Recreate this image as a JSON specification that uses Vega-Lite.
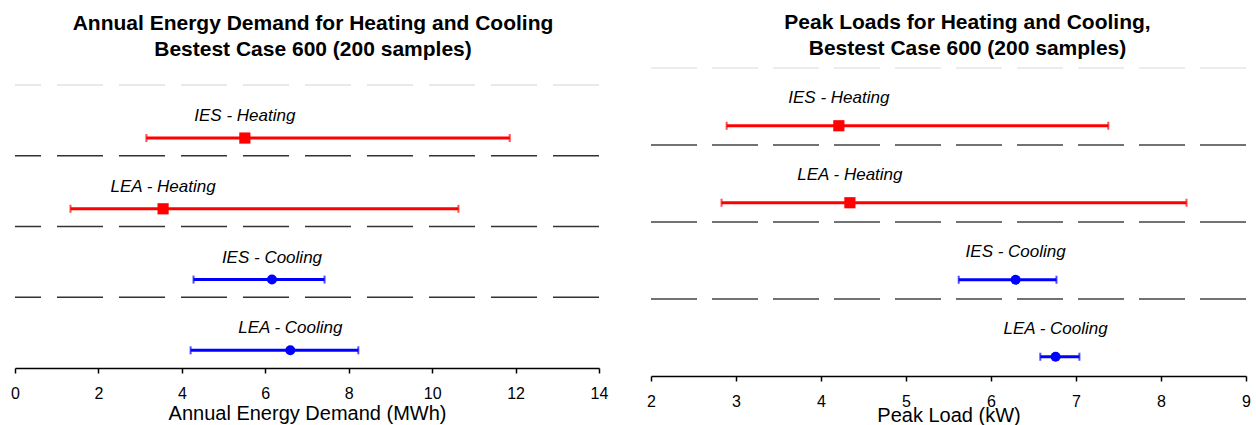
{
  "$schema": "https://vega.github.io/schema/vega-lite/v6.json",
  "padding": {"left": 10, "top": 12, "right": 4, "bottom": 0},
  "spacing": 38,
  "background": "white",
  "config": {
    "view": {"stroke": null},
    "font": "Liberation Sans",
    "title": {"font": "Liberation Sans", "fontSize": 21, "fontWeight": "bold", "color": "#000000", "lineHeight": 26, "anchor": "middle", "offset": 8},
    "axis": {"domainColor": "#000000", "domainWidth": 1.5, "tickColor": "#000000", "tickWidth": 1.5, "tickSize": 5, "labelFont": "Liberation Sans", "labelFontSize": 16, "labelColor": "#000000", "labelPadding": 12, "labelFlush": false, "titleFont": "Liberation Sans", "titleFontSize": 20, "titleFontWeight": "normal", "titleColor": "#000000", "grid": false, "format": "d"}
  },
  "datasets": {
    "sep": [{"y": 1}, {"y": 2}, {"y": 3}],
    "top": [{"y": 4}],
    "left": [
      {"label": "IES - Heating", "type": "Heating", "lo": 3.15, "mean": 5.51, "hi": 11.86, "pos": 3.25},
      {"label": "LEA - Heating", "type": "Heating", "lo": 1.33, "mean": 3.55, "hi": 10.63, "pos": 2.25},
      {"label": "IES - Cooling", "type": "Cooling", "lo": 4.28, "mean": 6.16, "hi": 7.42, "pos": 1.25},
      {"label": "LEA - Cooling", "type": "Cooling", "lo": 4.21, "mean": 6.60, "hi": 8.23, "pos": 0.25}
    ],
    "right": [
      {"label": "IES - Heating", "type": "Heating", "lo": 2.89, "mean": 4.21, "hi": 7.38, "pos": 3.25},
      {"label": "LEA -  Heating", "type": "Heating", "lo": 2.83, "mean": 4.34, "hi": 8.30, "pos": 2.25},
      {"label": "IES - Cooling", "type": "Cooling", "lo": 5.62, "mean": 6.29, "hi": 6.77, "pos": 1.25},
      {"label": "LEA - Cooling", "type": "Cooling", "lo": 6.58, "mean": 6.76, "hi": 7.04, "pos": 0.25}
    ]
  },
  "hconcat": [
    {
      "width": 584,
      "height": 300,
      "title": {"text": ["Annual Energy Demand for Heating and Cooling", "Bestest Case 600 (200 samples)"], "dx": 6},
      "layer": [
        {
          "data": {"name": "top"},
          "mark": {"type": "rule", "strokeDash": [46, 16], "strokeWidth": 1.3, "color": "#e2e2e2"},
          "encoding": {
            "y": {"field": "y", "type": "quantitative", "scale": {"domain": [0, 4.24], "nice": false}, "axis": null}
          }
        },
        {
          "data": {"name": "sep"},
          "mark": {"type": "rule", "strokeDash": [46, 16], "strokeWidth": 1.3, "color": "#333333"},
          "encoding": {
            "y": {"field": "y", "type": "quantitative", "scale": {"domain": [0, 4.24], "nice": false}, "axis": null}
          }
        },
        {
          "data": {"name": "left"},
          "layer": [
            {
              "mark": {"type": "rule", "strokeWidth": 3},
              "encoding": {
                "x": {"field": "lo", "type": "quantitative", "scale": {"domain": [0, 14], "nice": false}, "axis": {"values": [0, 2, 4, 6, 8, 10, 12, 14], "title": "Annual Energy Demand (MWh)", "titlePadding": 2}},
                "x2": {"field": "hi"},
                "y": {"field": "pos", "type": "quantitative", "scale": {"domain": [0, 4.24], "nice": false}, "axis": null},
                "color": {"field": "type", "type": "nominal", "scale": {"domain": ["Heating", "Cooling"], "range": ["#ff0000", "#0000ff"]}, "legend": null}
              }
            },
            {
              "mark": {"type": "tick", "orient": "vertical", "size": 8, "thickness": 2},
              "encoding": {
                "x": {"field": "lo", "type": "quantitative"},
                "y": {"field": "pos", "type": "quantitative"},
                "color": {"field": "type", "type": "nominal", "legend": null}
              }
            },
            {
              "mark": {"type": "tick", "orient": "vertical", "size": 8, "thickness": 2},
              "encoding": {
                "x": {"field": "hi", "type": "quantitative"},
                "y": {"field": "pos", "type": "quantitative"},
                "color": {"field": "type", "type": "nominal", "legend": null}
              }
            },
            {
              "mark": {"type": "point", "filled": true, "opacity": 1, "strokeWidth": 0},
              "encoding": {
                "x": {"field": "mean", "type": "quantitative"},
                "y": {"field": "pos", "type": "quantitative"},
                "color": {"field": "type", "type": "nominal", "legend": null},
                "shape": {"field": "type", "type": "nominal", "scale": {"domain": ["Heating", "Cooling"], "range": ["square", "circle"]}, "legend": null},
                "size": {"field": "type", "type": "nominal", "scale": {"domain": ["Heating", "Cooling"], "range": [125, 100]}, "legend": null}
              }
            },
            {
              "mark": {"type": "text", "fontStyle": "italic", "fontSize": 17, "dy": -22, "baseline": "middle", "align": "center", "color": "#000000"},
              "encoding": {
                "x": {"field": "mean", "type": "quantitative"},
                "y": {"field": "pos", "type": "quantitative"},
                "text": {"field": "label"}
              }
            }
          ]
        }
      ]
    },
    {
      "width": 595,
      "height": 308,
      "title": {"text": ["Peak Loads for Heating and Cooling,", "Bestest Case 600 (200 samples)"], "dx": 19},
      "layer": [
        {
          "data": {"name": "top"},
          "mark": {"type": "rule", "strokeDash": [46, 15], "strokeWidth": 1.3, "color": "#e6e6e6"},
          "encoding": {
            "y": {"field": "y", "type": "quantitative", "scale": {"domain": [0, 4], "nice": false}, "axis": null}
          }
        },
        {
          "data": {"name": "sep"},
          "mark": {"type": "rule", "strokeDash": [46, 15], "strokeWidth": 1.3, "color": "#444444"},
          "encoding": {
            "y": {"field": "y", "type": "quantitative", "scale": {"domain": [0, 4], "nice": false}, "axis": null}
          }
        },
        {
          "data": {"name": "right"},
          "layer": [
            {
              "mark": {"type": "rule", "strokeWidth": 3},
              "encoding": {
                "x": {"field": "lo", "type": "quantitative", "scale": {"domain": [2, 9], "nice": false, "zero": false}, "axis": {"values": [2, 3, 4, 5, 6, 7, 8, 9], "title": "Peak Load (kW)", "titlePadding": -4}},
                "x2": {"field": "hi"},
                "y": {"field": "pos", "type": "quantitative", "scale": {"domain": [0, 4], "nice": false}, "axis": null},
                "color": {"field": "type", "type": "nominal", "scale": {"domain": ["Heating", "Cooling"], "range": ["#ff0000", "#0000ff"]}, "legend": null}
              }
            },
            {
              "mark": {"type": "tick", "orient": "vertical", "size": 8, "thickness": 2},
              "encoding": {
                "x": {"field": "lo", "type": "quantitative"},
                "y": {"field": "pos", "type": "quantitative"},
                "color": {"field": "type", "type": "nominal", "legend": null}
              }
            },
            {
              "mark": {"type": "tick", "orient": "vertical", "size": 8, "thickness": 2},
              "encoding": {
                "x": {"field": "hi", "type": "quantitative"},
                "y": {"field": "pos", "type": "quantitative"},
                "color": {"field": "type", "type": "nominal", "legend": null}
              }
            },
            {
              "mark": {"type": "point", "filled": true, "opacity": 1, "strokeWidth": 0},
              "encoding": {
                "x": {"field": "mean", "type": "quantitative"},
                "y": {"field": "pos", "type": "quantitative"},
                "color": {"field": "type", "type": "nominal", "legend": null},
                "shape": {"field": "type", "type": "nominal", "scale": {"domain": ["Heating", "Cooling"], "range": ["square", "circle"]}, "legend": null},
                "size": {"field": "type", "type": "nominal", "scale": {"domain": ["Heating", "Cooling"], "range": [125, 100]}, "legend": null}
              }
            },
            {
              "mark": {"type": "text", "fontStyle": "italic", "fontSize": 17, "dy": -28, "baseline": "middle", "align": "center", "color": "#000000"},
              "encoding": {
                "x": {"field": "mean", "type": "quantitative"},
                "y": {"field": "pos", "type": "quantitative"},
                "text": {"field": "label"}
              }
            }
          ]
        }
      ]
    }
  ]
}
